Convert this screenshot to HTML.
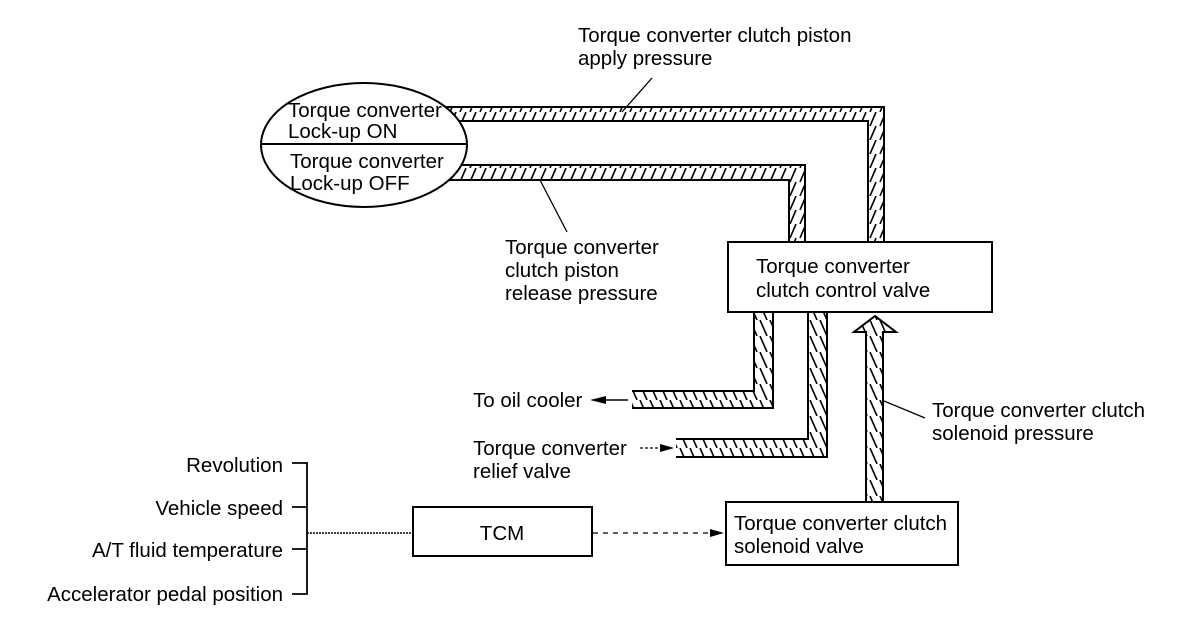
<!DOCTYPE html>
<html><head><meta charset="utf-8"><style>
html,body{margin:0;padding:0;background:#fff}
svg{display:block}
text{font-family:"Liberation Sans",Arial,sans-serif;font-size:20.5px;fill:#000}
</style></head><body>
<svg width="1200" height="620" viewBox="0 0 1200 620" xmlns="http://www.w3.org/2000/svg">
<defs>
<pattern id="hf" patternUnits="userSpaceOnUse" width="10" height="14">
<line x1="0" y1="14" x2="6" y2="0" stroke="#000" stroke-width="1.6"/>
<line x1="10" y1="14" x2="16" y2="0" stroke="#000" stroke-width="1.6"/>
<line x1="-10" y1="14" x2="-4" y2="0" stroke="#000" stroke-width="1.6"/>
</pattern>
<pattern id="hb" patternUnits="userSpaceOnUse" width="10" height="16">
<line x1="0" y1="0" x2="7" y2="16" stroke="#000" stroke-width="1.6"/>
<line x1="10" y1="0" x2="17" y2="16" stroke="#000" stroke-width="1.6"/>
<line x1="-10" y1="0" x2="-3" y2="16" stroke="#000" stroke-width="1.6"/>
</pattern>
</defs>
<g fill="none" stroke="#000" stroke-width="2">
<path d="M425 107 H884 V242 H868 V121 H425 Z" fill="url(#hf)" stroke="none"/>
<path d="M425 107 H884 V242 M868 242 V121 H425"/>
<path d="M420 165 H805 V242 H789 V180 H420 Z" fill="url(#hf)" stroke="none"/>
<path d="M420 165 H805 V242 M789 242 V180 H420"/>
<ellipse cx="364" cy="145" rx="103" ry="62" fill="#fff"/>
<line x1="261" y1="144" x2="467" y2="144"/>
<rect x="728" y="242" width="264" height="70" fill="#fff"/>
<path d="M754 312 V391 H632 V408 H773 V312 Z" fill="url(#hb)" stroke="none"/>
<path d="M754 312 V391 H632 M632 408 H773 V312"/>
<path d="M808 312 V439 H676 V457 H827 V312 Z" fill="url(#hb)" stroke="none"/>
<path d="M808 312 V439 H676 M676 457 H827 V312"/>
<path d="M866 502 V332 H854 L875 316 L896 332 H883 V502 Z" fill="url(#hb)" stroke="#000"/>
<rect x="726" y="502" width="232" height="63" fill="#fff"/>
<rect x="413" y="507" width="179" height="49" fill="#fff"/>
<path d="M292 463 H307 V594 H292 M292 507 H307 M292 549 H307" stroke-width="1.8"/>
<line x1="307" y1="533" x2="413" y2="533" stroke-width="1.5" stroke-dasharray="2 1"/>
<line x1="593" y1="533" x2="710" y2="533" stroke-width="1.3" stroke-dasharray="5 5"/>
<line x1="605" y1="400" x2="628" y2="400" stroke-width="1.5"/>
<line x1="640" y1="448" x2="662" y2="448" stroke-width="1.3" stroke-dasharray="3 2"/>
<line x1="652" y1="78" x2="622" y2="112" stroke-width="1.3"/>
<line x1="540" y1="180" x2="567" y2="232" stroke-width="1.3"/>
<line x1="884" y1="401" x2="925" y2="418" stroke-width="1.3"/>
</g>
<polygon points="590,400 606,396 606,404" fill="#000"/>
<polygon points="674,448 660,444 660,452" fill="#000"/>
<polygon points="724,533 710,529 710,537" fill="#000"/>
<text x="578" y="42">Torque converter clutch piston</text>
<text x="578" y="65">apply pressure</text>
<text x="288" y="117">Torque converter</text>
<text x="288" y="138">Lock-up ON</text>
<text x="290" y="168">Torque converter</text>
<text x="290" y="190">Lock-up OFF</text>
<text x="505" y="254">Torque converter</text>
<text x="505" y="277">clutch piston</text>
<text x="505" y="300">release pressure</text>
<text x="756" y="273">Torque converter</text>
<text x="756" y="297">clutch control valve</text>
<text x="473" y="407">To oil cooler</text>
<text x="473" y="455">Torque converter</text>
<text x="473" y="478">relief valve</text>
<text x="932" y="417">Torque converter clutch</text>
<text x="932" y="440">solenoid pressure</text>
<text x="734" y="530">Torque converter clutch</text>
<text x="734" y="553">solenoid valve</text>
<text x="502" y="540" text-anchor="middle">TCM</text>
<text x="283" y="472" text-anchor="end">Revolution</text>
<text x="283" y="515" text-anchor="end">Vehicle speed</text>
<text x="283" y="557" text-anchor="end">A/T fluid temperature</text>
<text x="283" y="601" text-anchor="end">Accelerator pedal position</text>
</svg>
</body></html>
